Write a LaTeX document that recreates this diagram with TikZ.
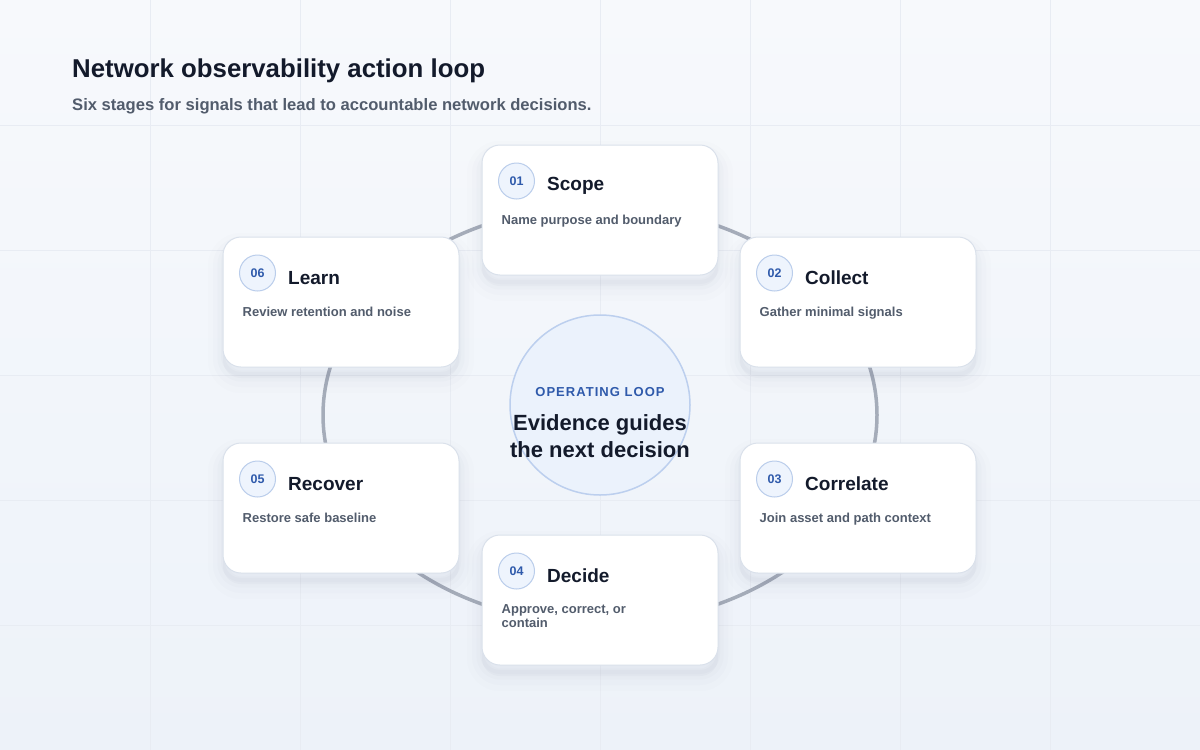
\documentclass[tikz,border=0pt]{standalone}
\usepackage{fontspec}
\setmainfont{Liberation Sans}
\usepackage{tikz}
\usetikzlibrary{positioning,calc,backgrounds}
\usepackage{xcolor}
\definecolor{bgTop}{HTML}{F7F9FC}
\definecolor{bgBottom}{HTML}{EDF2F9}
\definecolor{gridLine}{HTML}{E8ECF3}
\definecolor{cardLine}{HTML}{DAE1EB}
\definecolor{shadowInk}{HTML}{52607E}
\definecolor{loopGray}{HTML}{A5ACB9}
\definecolor{hubFill}{HTML}{EBF2FC}
\definecolor{hubLine}{HTML}{BCCFEE}
\definecolor{badgeFill}{HTML}{EEF4FD}
\definecolor{badgeLine}{HTML}{BACDEB}
\definecolor{numBlue}{HTML}{2F5AAB}
\definecolor{inkDark}{HTML}{131A2B}
\definecolor{inkGray}{HTML}{525C6C}
\tikzset{
  cardshadow/.style={
    preaction={draw=shadowInk,draw opacity=.01,fill=shadowInk,fill opacity=.03,
               line width=30pt,transform canvas={yshift=-11pt}},
    preaction={draw=shadowInk,draw opacity=.014,line width=20pt,transform canvas={yshift=-10pt}},
    preaction={draw=shadowInk,draw opacity=.018,line width=11pt,transform canvas={yshift=-9pt}},
    preaction={draw=shadowInk,draw opacity=.022,line width=4pt,transform canvas={yshift=-7pt}}
  }
}

\begin{document}
\begin{tikzpicture}[x=1pt,y=-1pt,
    card/.style={draw=cardLine,line width=1pt,fill=white,rounded corners=18pt,
                 minimum width=236pt,minimum height=130pt,inner sep=0pt,cardshadow},
    badge/.style={circle,draw=badgeLine,line width=1pt,fill=badgeFill,minimum size=36pt,
                  inner sep=0pt,text=numBlue,font=\fontsize{12.5}{14}\selectfont\bfseries},
    stitle/.style={inner sep=0pt,yshift=-5pt,text=inkDark,font=\fontsize{19}{22}\selectfont\bfseries},
    sdesc/.style={inner sep=0pt,anchor=north west,align=left,text=inkGray,
                  font=\fontsize{13}{13.5}\selectfont\bfseries},
    track/.style={draw=loopGray,line width=3.5pt},
    gridline/.style={draw=gridLine,line width=.6pt}]
  % canvas
  \shade[top color=bgTop,bottom color=bgBottom] (0,0) rectangle (1200,750);
  \useasboundingbox (0,0) rectangle (1200,750);
  \foreach \gx in {150,300,...,1050} \draw[gridline] (\gx,0) -- (\gx,750);
  \foreach \gy in {125,250,...,625} \draw[gridline] (0,\gy) -- (1200,\gy);

  % heading
  \node[anchor=base west,inner sep=0pt,text=inkDark,font=\fontsize{25.8}{30}\selectfont\bfseries]
    (title) at (72,77) {Network observability action loop};
  \node[anchor=base west,inner sep=0pt,text=inkGray,font=\fontsize{16.6}{19}\selectfont\bfseries]
    (subtitle) at (72,110) {Six stages for signals that lead to accountable network decisions.};

  % the loop behind the cards
  \draw[track] (600,415) ellipse [x radius=277pt,y radius=209pt];

  % hub
  \node[circle,minimum size=180pt,fill=hubFill,draw=hubLine,line width=1.5pt] (hub) at (600,405) {};
  \node[inner sep=0pt,text=numBlue,font=\fontsize{13}{15}\selectfont\bfseries\addfontfeatures{LetterSpace=8}]
    (hubtag) at (600,392) {OPERATING LOOP};
  \node[inner sep=0pt,align=center,text=inkDark,font=\fontsize{22}{27}\selectfont\bfseries]
    (hubtext) at (600,436) {Evidence guides\\the next decision};

  % stages
  \node[card] (scope) at (600,210) {};
  \node[badge] (n01) at ($(scope.north west)+(35,36.5)$) {01};
  \node[stitle,right=12pt of n01] (t01) {Scope};
  \node[sdesc] (d01) at ($(scope.north west)+(20,70)$) {Name purpose and boundary};

  \node[card] (collect) at (858,302) {};
  \node[badge] (n02) at ($(collect.north west)+(35,36.5)$) {02};
  \node[stitle,right=12pt of n02] (t02) {Collect};
  \node[sdesc] (d02) at ($(collect.north west)+(20,70)$) {Gather minimal signals};

  \node[card] (correlate) at (858,508) {};
  \node[badge] (n03) at ($(correlate.north west)+(35,36.5)$) {03};
  \node[stitle,right=12pt of n03] (t03) {Correlate};
  \node[sdesc] (d03) at ($(correlate.north west)+(20,70)$) {Join asset and path context};

  \node[card] (decide) at (600,600) {};
  \node[badge] (n04) at ($(decide.north west)+(35,36.5)$) {04};
  \node[stitle,right=12pt of n04] (t04) {Decide};
  \node[sdesc] (d04) at ($(decide.north west)+(20,70)$) {Approve, correct, or\\contain};

  \node[card] (recover) at (341,508) {};
  \node[badge] (n05) at ($(recover.north west)+(35,36.5)$) {05};
  \node[stitle,right=12pt of n05] (t05) {Recover};
  \node[sdesc] (d05) at ($(recover.north west)+(20,70)$) {Restore safe baseline};

  \node[card] (learn) at (341,302) {};
  \node[badge] (n06) at ($(learn.north west)+(35,36.5)$) {06};
  \node[stitle,right=12pt of n06] (t06) {Learn};
  \node[sdesc] (d06) at ($(learn.north west)+(20,70)$) {Review retention and noise};
\end{tikzpicture}
\end{document}
